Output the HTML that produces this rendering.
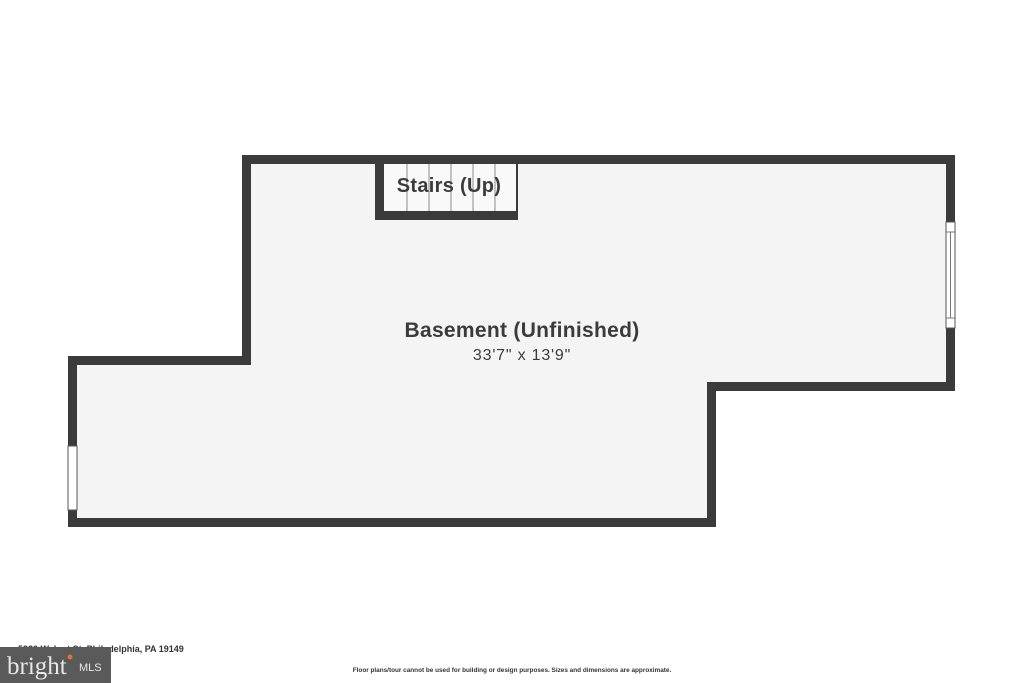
<!DOCTYPE html>
<html><head><style>
html,body{margin:0;padding:0;background:#fff;width:1024px;height:683px;overflow:hidden;}
</style></head><body>
<svg width="1024" height="683" xmlns="http://www.w3.org/2000/svg" style="position:absolute;left:0;top:0">
<polygon points="246.5,159.5 950.5,159.5 950.5,386.5 711.5,386.5 711.5,522.5 72.5,522.5 72.5,360.5 246.5,360.5" fill="#f4f4f4" stroke="#3b3b3b" stroke-width="9"/>
<rect x="384" y="164" width="132" height="47" fill="#f9f9f9"/>
<g stroke="#8a8a8a" stroke-width="1">
<line x1="407" y1="164" x2="407" y2="211"/>
<line x1="429" y1="164" x2="429" y2="211"/>
<line x1="451" y1="164" x2="451" y2="211"/>
<line x1="473" y1="164" x2="473" y2="211"/>
<line x1="495" y1="164" x2="495" y2="211"/>
</g>
<rect x="375" y="160" width="9" height="60" fill="#3b3b3b"/>
<rect x="375" y="211" width="143" height="9" fill="#3b3b3b"/>
<rect x="516" y="160" width="2" height="60" fill="#3b3b3b"/>
<rect x="946" y="222" width="9" height="106" fill="#fff" stroke="#555" stroke-width="1"/>
<line x1="950.5" y1="232" x2="950.5" y2="318" stroke="#777" stroke-width="1"/>
<line x1="946" y1="232" x2="955" y2="232" stroke="#777" stroke-width="1"/>
<line x1="946" y1="318" x2="955" y2="318" stroke="#777" stroke-width="1"/>
<rect x="68" y="446" width="9" height="64" fill="#fff" stroke="#555" stroke-width="1"/>
<text x="449" y="192" font-family="Liberation Sans, sans-serif" font-weight="bold" font-size="20" letter-spacing="0.3" fill="#3b3b3b" text-anchor="middle">Stairs (Up)</text>
<text x="522" y="337" font-family="Liberation Sans, sans-serif" font-weight="bold" font-size="21" letter-spacing="0.3" fill="#3b3b3b" text-anchor="middle">Basement (Unfinished)</text>
<text x="522" y="360" font-family="Liberation Sans, sans-serif" font-size="16" letter-spacing="0.8" fill="#3b3b3b" text-anchor="middle">33'7" x 13'9"</text>
<text x="18" y="652" font-family="Liberation Sans, sans-serif" font-weight="bold" font-size="9" fill="#333">5930 Walnut St, Philadelphia, PA 19149</text>
<text x="512" y="672" font-family="Liberation Sans, sans-serif" font-weight="bold" font-size="6.4" fill="#333" text-anchor="middle">Floor plans/tour cannot be used for building or design purposes. Sizes and dimensions are approximate.</text>
<rect x="0" y="647" width="111" height="36" fill="#5a5a5a"/>
<text x="7" y="674" font-family="Liberation Serif, serif" font-size="25" fill="#e8e8e8">bright</text>
<circle cx="70" cy="657" r="2.5" fill="#e0703a"/>
<text x="79" y="671" font-family="Liberation Sans, sans-serif" font-size="11" fill="#e8e8e8">MLS</text>
</svg>
</body></html>
